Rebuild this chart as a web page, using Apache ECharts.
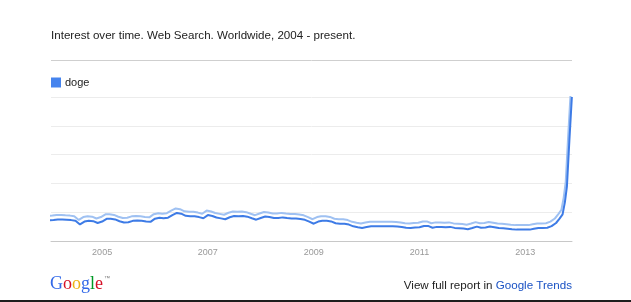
<!DOCTYPE html>
<html lang="en">
<head>
    <meta charset="UTF-8">
    <title>doge - Interest over time</title>
    <script src="https://cdn.jsdelivr.net/npm/echarts@6/dist/echarts.min.js"></script>
    <style>
        html, body { margin: 0; padding: 0; background: #fff; }
    </style>
</head>
<body>
    <div id="main" style="width: 631px;height:302px;"></div>
<script>
    // monthly interest, Jan 2004 .. Jul 2013
    var monthlyValues = [
        14.4, 14.6, 15.0, 14.9, 14.7, 14.5, 14.1, 11.5, 13.5, 14.0, 13.8, 12.5,
        13.5, 15.4, 15.4, 15.0, 13.7, 12.8, 13.0, 14.0, 14.3, 14.0, 13.6, 13.3,
        15.5, 16.2, 15.8, 16.2, 18.0, 19.5, 19.0, 17.5, 17.2, 17.2, 16.6, 15.8,
        18.0, 17.4, 16.3, 15.7, 15.1, 16.5, 17.3, 17.2, 17.4, 16.9, 15.8, 14.8,
        16.0, 17.0, 16.7, 16.0, 15.9, 16.4, 16.0, 15.6, 15.6, 15.2, 14.7, 13.4,
        12.0, 13.5, 14.0, 14.0, 13.6, 12.3, 12.0, 12.0, 11.4, 10.2, 9.6, 9.1,
        9.7, 10.2, 10.2, 10.2, 10.2, 10.2, 10.2, 10.1, 9.7, 9.2, 9.1, 9.3,
        9.5, 10.4, 10.5, 9.2, 9.8, 9.8, 9.6, 9.8, 9.1, 8.9, 8.6, 8.2,
        9.0, 10.0, 9.2, 9.4, 10.0, 9.6, 9.0, 8.8, 8.5, 8.2, 7.9, 7.9,
        7.9, 7.9, 8.5, 9.1, 9.1, 9.2, 10.3
    ];
    // the late 2013 spike, finer steps
    var lateDates = ['2013-08-01', '2013-08-25', '2013-09-15', '2013-10-01', '2013-10-15', '2013-11-01', '2013-11-18'];
    var lateValues = [12.5, 15.5, 18.5, 27, 38, 70, 100];

    var tickYears = ['2005', '2007', '2009', '2011', '2013'];
    var seriesName = 'doge';

    var points = [];
    for (var i = 0; i < monthlyValues.length; i++) {
        var y = 2004 + Math.floor(i / 12);
        var m = (i % 12) + 1;
        points.push([Date.parse(y + '-' + (m < 10 ? '0' + m : m) + '-01'), monthlyValues[i]]);
    }
    for (var j = 0; j < lateDates.length; j++) {
        points.push([Date.parse(lateDates[j]), lateValues[j]]);
    }

    var myChart = echarts.init(document.getElementById('main'));

    myChart.setOption({
        animation: false,
        title: {
            text: 'Interest over time. Web Search. Worldwide, 2004 - present.',
            left: 51,
            top: 30,
            padding: 0,
            textStyle: {
                fontFamily: 'Liberation Sans',
                fontSize: 11.6,
                fontWeight: 'normal',
                color: '#222'
            }
        },
        legend: {
            data: [seriesName],
            left: 51,
            top: 77,
            padding: 0,
            icon: 'rect',
            itemWidth: 10,
            itemHeight: 10,
            itemGap: 5,
            textStyle: { fontFamily: 'Liberation Sans', fontSize: 11, color: '#222', padding: [0, 0, 0, -1] }
        },
        grid: {
            left: 51,
            right: 59,
            top: 97,
            bottom: 61
        },
        xAxis: {
            type: 'value',
            min: Date.parse('2004-01-14'),
            max: Date.parse('2013-11-19'),
            axisLine: { show: true, lineStyle: { color: '#c8c8c8', width: 1 } },
            axisTick: { show: false },
            splitLine: { show: false },
            axisLabel: {
                customValues: tickYears.map(function (y) { return Date.parse(y + '-01-01'); }),
                formatter: function (v) { return String(new Date(v).getUTCFullYear()); },
                color: '#999',
                fontFamily: 'Liberation Sans',
                fontSize: 9,
                margin: 7
            }
        },
        yAxis: {
            type: 'value',
            min: 0,
            max: 100,
            interval: 20,
            axisLine: { show: false },
            axisTick: { show: false },
            axisLabel: { show: false },
            splitLine: { lineStyle: { color: '#ececec', width: 1 } }
        },
        series: [{
            name: seriesName,
            type: 'line',
            data: points,
            showSymbol: false,
            itemStyle: { color: '#4684ee' },
            lineStyle: {
                color: '#3d7be6',
                width: 2,
                shadowColor: '#9fc1f2',
                shadowBlur: 0,
                shadowOffsetX: -1.2,
                shadowOffsetY: -4.5
            }
        }],
        graphic: [
            { // rule under the title
                type: 'line',
                shape: { x1: 51, y1: 60.5, x2: 572, y2: 60.5 },
                style: { stroke: '#cfcfcf', lineWidth: 1 }
            },
            { // google logo
                type: 'text',
                x: 50,
                y: 275,
                style: {
                    text: '{b|G}{r|o}{y|o}{b|g}{g|l}{r|e}{tm|™}',
                    rich: {
                        b: { fontFamily: 'Liberation Serif', fontSize: 18, fill: '#3369e8' },
                        r: { fontFamily: 'Liberation Serif', fontSize: 18, fill: '#d50f25' },
                        y: { fontFamily: 'Liberation Serif', fontSize: 18, fill: '#eeb211' },
                        g: { fontFamily: 'Liberation Serif', fontSize: 18, fill: '#009925' },
                        tm: { fontFamily: 'Liberation Sans', fontSize: 6, fill: '#777', verticalAlign: 'top', padding: [0, 0, 6, 1] }
                    }
                }
            },
            { // report link
                type: 'text',
                x: 572,
                y: 280,
                style: {
                    text: '{a|View full report in }{l|Google Trends}',
                    align: 'right',
                    rich: {
                        a: { fontFamily: 'Liberation Sans', fontSize: 11.6, fill: '#222' },
                        l: { fontFamily: 'Liberation Sans', fontSize: 11.6, fill: '#1a52c4' }
                    }
                }
            },
            { // bottom border
                type: 'rect',
                shape: { x: 0, y: 300, width: 631, height: 2 },
                style: { fill: '#1e1e1e' }
            }
        ]
    });
</script>
</body>
</html>
